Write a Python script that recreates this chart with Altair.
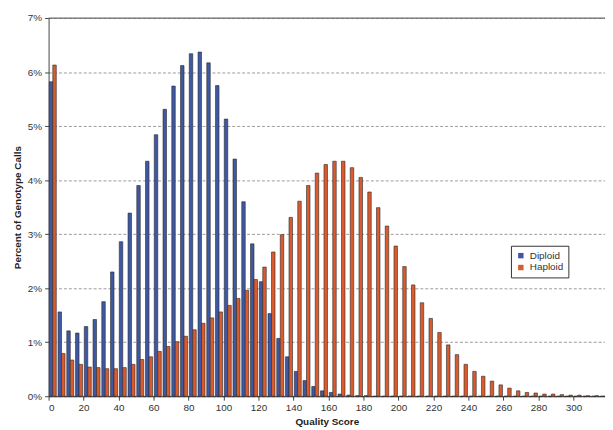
import altair as alt
import pandas as pd

# Bin index (each bin is 5 quality-score units wide, starting at 0)
bins = list(range(64))

diploid = [5.82, 1.56, 1.21, 1.17, 1.29, 1.42, 1.75, 2.30, 2.86, 3.39,
           3.90, 4.35, 4.84, 5.31, 5.74, 6.12, 6.34, 6.37, 6.17, 5.75,
           5.13, 4.39, 3.60, 2.82, 2.12, 1.53, 1.07, 0.73, 0.46, 0.29,
           0.18, 0.10, 0.07, 0.04, 0.02, 0.01, 0.01, 0, 0, 0,
           0, 0, 0, 0, 0, 0, 0, 0, 0, 0,
           0, 0, 0, 0, 0, 0, 0, 0, 0, 0,
           0, 0, 0, 0]

haploid = [6.13, 0.79, 0.67, 0.59, 0.54, 0.53, 0.51, 0.51, 0.53, 0.59,
           0.68, 0.73, 0.83, 0.92, 1.01, 1.11, 1.23, 1.35, 1.45, 1.56,
           1.68, 1.81, 1.96, 2.16, 2.39, 2.67, 2.99, 3.31, 3.61, 3.90,
           4.13, 4.29, 4.35, 4.35, 4.23, 4.05, 3.78, 3.49, 3.15, 2.78,
           2.40, 2.06, 1.73, 1.44, 1.18, 0.95, 0.77, 0.59, 0.46, 0.37,
           0.28, 0.21, 0.15, 0.10, 0.07, 0.06, 0.04, 0.04, 0.03, 0.02,
           0.02, 0.01, 0.01, 0]

series_names = ["Diploid", "Haploid"]
series_colors = ["#3f58a3", "#d95b2e"]
x_ticks = list(range(0, 301, 20))
y_ticks = [0, 1, 2, 3, 4, 5, 6, 7]

rows = []
for b, d, h in zip(bins, diploid, haploid):
    rows.append({"bin": b, "series": "Diploid", "pct": d})
    rows.append({"bin": b, "series": "Haploid", "pct": h})
df = pd.DataFrame(rows)

FONT = "Liberation Sans"

bars = alt.Chart(df).transform_calculate(
    lo="datum.bin * 5 + (datum.series == 'Diploid' ? 0.4 : 2.4)"
).transform_calculate(
    hi="datum.lo + 2"
).mark_bar(stroke="#2a2a2a", strokeWidth=0.6).encode(
    x=alt.X("lo:Q",
            scale=alt.Scale(domain=[0, 318], nice=False, zero=True),
            axis=alt.Axis(values=x_ticks, title="Quality Score", grid=False,
                          labelFont=FONT, labelFontSize=10, labelColor="#333",
                          titleFont=FONT, titleFontSize=10, titleFontWeight="bold",
                          titleColor="#222", titlePadding=5,
                          domainColor="#222", tickColor="#444", tickSize=4,
                          labelPadding=2)),
    x2="hi:Q",
    y=alt.Y("pct:Q",
            scale=alt.Scale(domain=[0, 7], nice=False),
            axis=alt.Axis(values=y_ticks, title="Percent of Genotype Calls",
                          labelExpr="datum.value + '%'",
                          labelFont=FONT, labelFontSize=10, labelColor="#333",
                          titleFont=FONT, titleFontSize=10, titleFontWeight="bold",
                          titleColor="#222", titlePadding=5,
                          grid=True, gridColor="#a09a9a", gridDash=[3, 2],
                          gridWidth=1,
                          domainColor="#444", tickColor="#444", tickSize=4,
                          labelPadding=3)),
    y2=alt.datum(0),
    color=alt.Color("series:N",
                    scale=alt.Scale(domain=series_names, range=series_colors),
                    legend=alt.Legend(title=None, orient="none",
                                      legendX=467, legendY=230,
                                      symbolType="square", symbolSize=30,
                                      symbolStrokeWidth=0,
                                      labelFont=FONT, labelFontSize=10,
                                      labelColor="#333",
                                      strokeColor="#333", fillColor="white",
                                      padding=5, rowPadding=2)),
)

top_line = alt.Chart(pd.DataFrame({"y": [7]})).mark_rule(
    color="#6a6a6a", strokeWidth=1.3
).encode(y="y:Q")

chart = alt.layer(bars, top_line).properties(
    width=562, height=382,
    autosize=alt.AutoSizeParams(type="none"),
    padding={"left": 41, "top": 8, "right": 0, "bottom": 34},
).configure_view(stroke=None)

chart.save("out.html", embed_options={"renderer": "svg", "actions": False})
